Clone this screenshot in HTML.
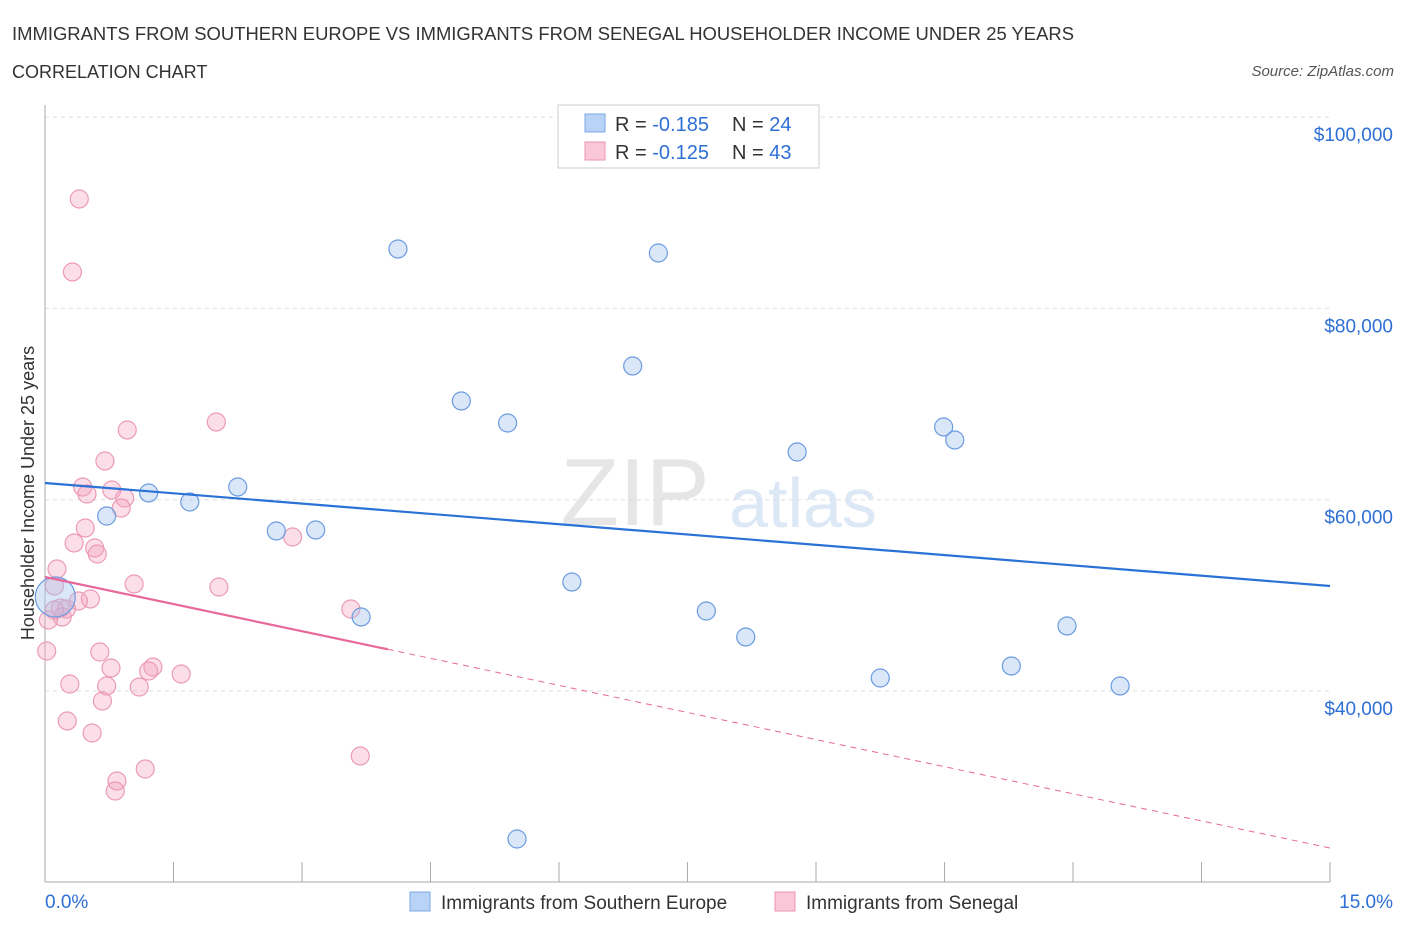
<!DOCTYPE html>
<html><head><meta charset="utf-8"><style>
body{margin:0;background:#fff;font-family:"Liberation Sans",sans-serif;}
svg text{font-family:"Liberation Sans",sans-serif;}
</style></head><body>
<svg id="chart" width="1406" height="930" viewBox="0 0 1406 930">
<text x="12" y="40" font-size="18" fill="#333" textLength="1062" lengthAdjust="spacingAndGlyphs">IMMIGRANTS FROM SOUTHERN EUROPE VS IMMIGRANTS FROM SENEGAL HOUSEHOLDER INCOME UNDER 25 YEARS</text>
<text x="12" y="78" font-size="18" fill="#333">CORRELATION CHART</text>
<text x="1394" y="76" font-size="15" fill="#555" font-style="italic" text-anchor="end">Source: ZipAtlas.com</text>
<g>
<text x="635" y="525" font-size="96" fill="#e6e6e6" font-family="Liberation Serif" text-anchor="middle">ZIP</text>
<text x="803" y="527" font-size="70" fill="#dde8f6" text-anchor="middle">atlas</text>
</g>
<g id="grid"></g>
<g id="axes"></g>
<g id="marks"></g>
<g>
<rect x="558" y="105" width="261" height="63" fill="#fff" stroke="#ccc"/>
<rect x="585" y="114" width="20" height="18" fill="#b9d3f6" stroke="#7aa7e6"/>
<rect x="585" y="142" width="20" height="18" fill="#f9c7d7" stroke="#eb94b2"/>
<text x="615" y="131" font-size="20" fill="#333">R = <tspan fill="#2e6fd6">-0.185</tspan></text>
<text x="732" y="131" font-size="20" fill="#333">N = <tspan fill="#2e6fd6">24</tspan></text>
<text x="615" y="159" font-size="20" fill="#333">R = <tspan fill="#2e6fd6">-0.125</tspan></text>
<text x="732" y="159" font-size="20" fill="#333">N = <tspan fill="#2e6fd6">43</tspan></text>
</g>
<g>
<rect x="410" y="892" width="20" height="19" fill="#b9d3f6" stroke="#7aa7e6"/>
<text x="441" y="909" font-size="19" fill="#333">Immigrants from Southern Europe</text>
<rect x="775" y="892" width="20" height="19" fill="#f9c7d7" stroke="#eb94b2"/>
<text x="806" y="909" font-size="19" fill="#333">Immigrants from Senegal</text>
</g>
<text x="34" y="493" font-size="18" fill="#333" text-anchor="middle" transform="rotate(-90 34 493)">Householder Income Under 25 years</text>
</svg>
<script>
const yTicks=[40000,60000,80000,100000];
const yTickLabels=["$40,000","$60,000","$80,000","$100,000"];
const blueX=[0.72,1.21,1.69,2.25,2.70,3.16,3.69,4.12,4.86,5.40,6.15,6.86,7.16,7.72,8.18,8.78,9.75,10.49,10.62,11.28,11.93,12.55,5.51,0.12];
const blueY=[58296,60701,59760,61328,56728,56833,47737,86211,70320,68019,51396,73979,85793,48364,45646,64987,41359,67601,66242,42614,46796,40523,24527,49828];
const pinkX=[0.40,0.32,2.00,0.96,0.70,0.44,0.49,0.78,0.93,0.89,0.47,0.34,0.58,0.61,2.89,0.14,1.04,2.03,0.11,0.53,0.39,0.18,0.25,3.57,0.20,0.04,0.02,0.64,0.77,1.26,1.21,1.59,0.29,0.72,1.10,0.67,0.26,0.55,1.17,0.84,0.82,3.68,0.11];
const pinkY=[91439,83806,68124,67288,64047,61328,60596,61014,60178,59132,57042,55474,54951,54323,56100,52755,51187,50873,50978,49619,49410,48678,48573,48573,47737,47423,44182,44077,42405,42509,42091,41777,40732,40523,40418,38955,36864,35609,31845,30591,29545,33204,48468];
const blueTrend=[61746,50978];
const pinkTrend=[51919,23586];
const pinkSolidEnd=4.0;
const NS='http://www.w3.org/2000/svg';
const X=v=>45+v/15*1285;
const Y=v=>691-(v-40000)*191.3/20000;
function mk(tag,attrs,parent){const e=document.createElementNS(NS,tag);for(const k in attrs)e.setAttribute(k,attrs[k]);document.getElementById(parent).appendChild(e);return e;}
yTicks.forEach((t,i)=>{
 const g=mk('line',{x1:45,x2:1330,y1:Y(t),y2:Y(t),stroke:'#ddd','stroke-dasharray':'4,4'},'grid');
 
 
 const l=mk('text',{x:1393,y:Y(t)+24,'font-size':19,fill:'#2e6fd6','text-anchor':'end'},'axes');
 l.textContent=yTickLabels[i];
 
 
});
const ax=mk('line',{x1:45,x2:45,y1:105,y2:882,stroke:'#aaa'},'axes');


const bx=mk('line',{x1:45,x2:1330,y1:882,y2:882,stroke:'#aaa'},'axes');


for(let i=1;i<=10;i++){const t=mk('line',{x1:X(i*1.5),x2:X(i*1.5),y1:862,y2:882,stroke:'#aaa'},'axes');
 
 }
const xl0=mk('text',{x:45,y:908,'font-size':19,fill:'#2e6fd6'},'axes');xl0.textContent='0.0%';


const xl1=mk('text',{x:1393,y:908,'font-size':19,fill:'#2e6fd6','text-anchor':'end'},'axes');xl1.textContent='15.0%';


pinkX.forEach((x,i)=>{const c=mk('circle',{cx:X(x),cy:Y(pinkY[i]),r:9,fill:'rgba(244,160,188,0.35)',stroke:'#ec9ab5','stroke-width':1.2},'marks');
 
 });
blueX.forEach((x,i)=>{const c=mk('circle',{cx:X(x),cy:Y(blueY[i]),r:i===blueX.length-1?20:9,fill:'rgba(160,195,240,0.4)',stroke:'#6b9be0','stroke-width':1.2},'marks');
 
 });
const bt=mk('line',{x1:X(0),y1:Y(blueTrend[0]),x2:X(15),y2:Y(blueTrend[1]),stroke:'#2a72d6','stroke-width':2.2},'marks');


const pm=pinkTrend[0]+(pinkTrend[1]-pinkTrend[0])*pinkSolidEnd/15;
const ps=mk('line',{x1:X(0),y1:Y(pinkTrend[0]),x2:X(pinkSolidEnd),y2:Y(pm),stroke:'#e8689a','stroke-width':2.2},'marks');


const pd=mk('line',{x1:X(pinkSolidEnd),y1:Y(pm),x2:X(15),y2:Y(pinkTrend[1]),stroke:'#e8689a','stroke-width':1,'stroke-dasharray':'6,5'},'marks');


</script>
</body></html>
